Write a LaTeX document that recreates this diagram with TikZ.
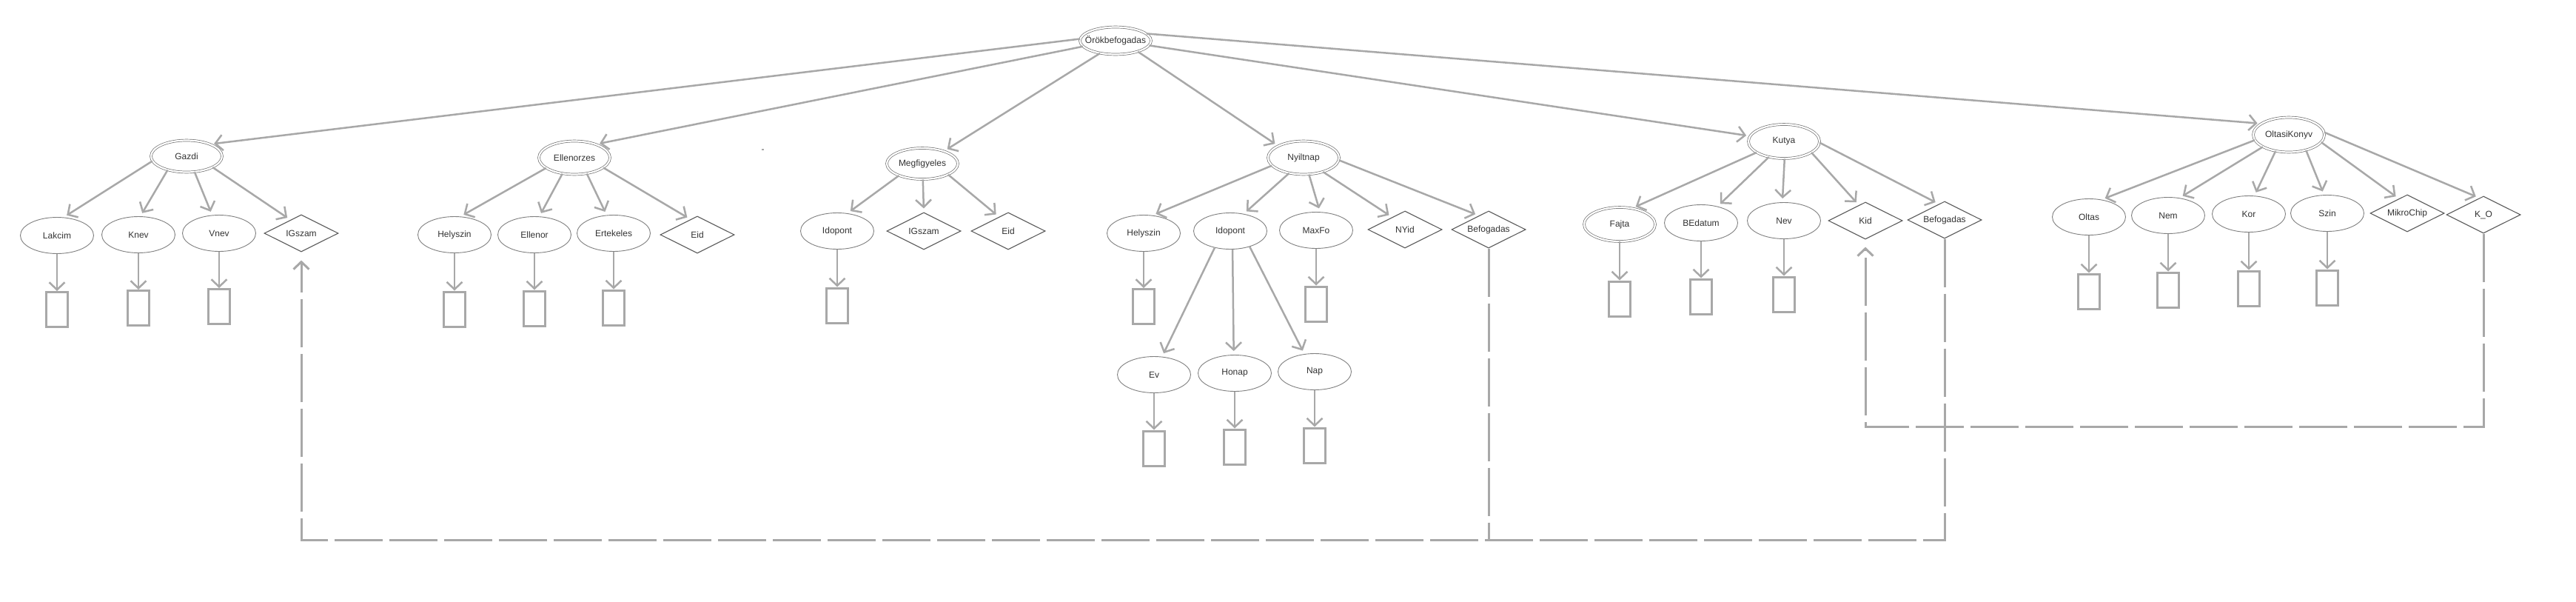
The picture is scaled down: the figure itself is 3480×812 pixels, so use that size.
\documentclass[tikz,border=0pt]{standalone}
\usepackage{fontspec}
\setmainfont{Liberation Sans}
\usetikzlibrary{shapes.geometric,arrows.meta}
\definecolor{lin}{HTML}{A8A8A8}
\definecolor{bord}{HTML}{7F7F7F}
\definecolor{ebord}{HTML}{707070}
\definecolor{dbord}{HTML}{5A5A5A}
\definecolor{txt}{HTML}{333333}
\newcommand{\ctxt}[1]{\makebox[0pt]{#1}}
\begin{document}
\begin{tikzpicture}[x=1pt,y=-1pt,
  every node/.style={font=\fontsize{12}{14}\selectfont, text=txt, inner sep=0pt},
  attr/.style={ellipse, draw=bord, line width=0.9pt, minimum width=99pt, minimum height=49pt},
  ent/.style={ellipse, draw=ebord, line width=0.7pt, double, double distance=2.2pt, minimum width=96pt, minimum height=#1},
  ent/.default=43pt,
  relbox/.style={diamond, draw=dbord, line width=1.1pt, minimum width=100pt, minimum height=50pt},
  valbox/.style={rectangle, draw=lin, line width=3pt, minimum width=29pt, minimum height=47pt},
  conn/.style={draw=lin, line width=2.5pt, -{Straight Barb[length=10pt,width=21pt]}, shorten >=5pt},
  vconn/.style={draw=lin, line width=2.5pt, -{Straight Barb[length=10pt,width=21pt]}},
  link/.style={draw=lin, line width=3pt, dash pattern=on 65pt off 9pt},
]
\useasboundingbox (0,0) rectangle (3480,812);
\fill[white] (0,0) rectangle (3480,812);

% entities
\node[ent=37pt] (R) at (1507,55) {\ctxt{Örökbefogadas}};
\node[ent=43pt] (G) at (252,211) {\ctxt{Gazdi}};
\node[ent=45pt] (E) at (776,213) {\ctxt{Ellenorzes}};
\node[ent=42pt] (M) at (1246,221) {\ctxt{Megfigyeles}};
\node[ent=45pt] (N) at (1761,213) {\ctxt{Nyiltnap}};
\node[ent=46pt] (K) at (2410,191) {\ctxt{Kutya}};
\node[ent=47pt] (O) at (3092,182) {\ctxt{OltasiKonyv}};

% Gazdi
\node[attr] (GL) at (77,318) {\ctxt{Lakcim}};
\node[attr] (GK) at (187,317) {\ctxt{Knev}};
\node[attr] (GV) at (296,315) {\ctxt{Vnev}};
\node[relbox] (GI) at (407,315) {\ctxt{IGszam}};
\node[valbox] (GLr) at (77,418) {};
\node[valbox] (GKr) at (187,416) {};
\node[valbox] (GVr) at (296,414) {};

% Ellenorzes
\node[attr] (EH) at (614,317) {\ctxt{Helyszin}};
\node[attr] (EE) at (722,317) {\ctxt{Ellenor}};
\node[attr] (ET) at (829,315) {\ctxt{Ertekeles}};
\node[relbox] (EI) at (942,317) {\ctxt{Eid}};
\node[valbox] (EHr) at (614,417.5) {};
\node[valbox] (EEr) at (722,416.5) {};
\node[valbox] (ETr) at (829,415.5) {};

% Megfigyeles
\node[attr] (MI) at (1131,312) {\ctxt{Idopont}};
\node[relbox] (MG) at (1248,312) {\ctxt{IGszam}};
\node[relbox] (ME) at (1362,312) {\ctxt{Eid}};
\node[valbox] (MIr) at (1131,412.5) {};

% Nyiltnap
\node[attr] (NH) at (1545,315) {\ctxt{Helyszin}};
\node[attr] (NI) at (1662,312) {\ctxt{Idopont}};
\node[attr] (NM) at (1778,311) {\ctxt{MaxFo}};
\node[relbox] (NY) at (1898,310) {\ctxt{NYid}};
\node[relbox] (NB) at (2011,310) {\ctxt{Befogadas}};
\node[valbox] (NHr) at (1545,414) {};
\node[valbox] (NMr) at (1778,410.5) {};
\node[attr] (NE) at (1559,506) {\ctxt{Ev}};
\node[attr] (NO) at (1668,504) {\ctxt{Honap}};
\node[attr] (NP) at (1776,502) {\ctxt{Nap}};
\node[valbox] (NEr) at (1559,605.5) {};
\node[valbox] (NOr) at (1668,603.5) {};
\node[valbox] (NPr) at (1776,601.5) {};

% Kutya
\node[ent=46pt] (KF) at (2188,303) {\ctxt{Fajta}};
\node[attr] (KB) at (2298,301) {\ctxt{BEdatum}};
\node[attr] (KN) at (2410,298) {\ctxt{Nev}};
\node[relbox] (KK) at (2520,298) {\ctxt{Kid}};
\node[relbox] (KG) at (2627,297) {\ctxt{Befogadas}};
\node[valbox] (KFr) at (2188,403.5) {};
\node[valbox] (KBr) at (2298,400.5) {};
\node[valbox] (KNr) at (2410,397.5) {};

% OltasiKonyv
\node[attr] (OO) at (2822,293) {\ctxt{Oltas}};
\node[attr] (ON) at (2929,291) {\ctxt{Nem}};
\node[attr] (OK) at (3038,289) {\ctxt{Kor}};
\node[attr] (OS) at (3144,288) {\ctxt{Szin}};
\node[relbox] (OM) at (3252,288) {\ctxt{MikroChip}};
\node[relbox] (OX) at (3355,290) {\ctxt{K\_O}};
\node[valbox] (OOr) at (2822,393.5) {};
\node[valbox] (ONr) at (2929,391.5) {};
\node[valbox] (OKr) at (3038,389.5) {};
\node[valbox] (OSr) at (3144,388.5) {};

% root connectors
\draw[conn] (R.177) -- (G.27);
\draw[conn] (R.190) -- (E.32);
\draw[conn] (R.219) -- (M.30);
\draw[conn] (R.334) -- (N.155);
\draw[conn] (R.352) -- (K.171);
\draw[conn] (R.13) -- (O.158);

% Gazdi connectors
\draw[conn] (G.188) -- (GL.70);
\draw[conn] (G.216) -- (GK.84);
\draw[conn] (G.297) -- (GV.111);
\draw[conn] (G.337) -- (GI.129);
\draw[vconn] (GL.south) -- (GLr.north);
\draw[vconn] (GK.south) -- (GKr.north);
\draw[vconn] (GV.south) -- (GVr.north);

% Ellenorzes connectors
\draw[conn] (E.200) -- (EH.72);
\draw[conn] (E.233) -- (EE.75);
\draw[conn] (E.308) -- (ET.111);
\draw[conn] (E.341) -- (EI.114);
\draw[vconn] (EH.south) -- (EHr.north);
\draw[vconn] (EE.south) -- (EEr.north);
\draw[vconn] (ET.south) -- (ETr.north);

% Megfigyeles connectors
\draw[conn] (M.207) -- (MI.60);
\draw[conn] (M.272) -- (MG.90);
\draw[conn] (M.337) -- (ME.123);
\draw[vconn] (MI.south) -- (MIr.north);

% Nyiltnap connectors
\draw[conn] (N.194) -- (NH.64);
\draw[conn] (N.227) -- (NI.52);
\draw[conn] (N.288) -- (NM.78);
\draw[conn] (N.324) -- (NY.136);
\draw[conn] (N.356) -- (NB.125);
\draw[vconn] (NH.south) -- (NHr.north);
\draw[vconn] (NM.south) -- (NMr.north);
\draw[conn] (NI.227) -- (NE.66);
\draw[conn] (NI.277) -- (NO.93);
\draw[conn] (NI.321) -- (NP.120);
\draw[vconn] (NE.south) -- (NEr.north);
\draw[vconn] (NO.south) -- (NOr.north);
\draw[vconn] (NP.south) -- (NPr.north);

% Kutya connectors
\draw[conn] (K.202) -- (KF.52);
\draw[conn] (K.226) -- (KB.45);
\draw[conn] (K.272) -- (KN.95);
\draw[conn] (K.338) -- (KK.113);
\draw[conn] (K.358) -- (KG.110);
\draw[vconn] (KF.south) -- (KFr.north);
\draw[vconn] (KB.south) -- (KBr.north);
\draw[vconn] (KN.south) -- (KNr.north);

% OltasiKonyv connectors
\draw[conn] (O.189) -- (OO.54);
\draw[conn] (O.205) -- (ON.57);
\draw[conn] (O.231) -- (OK.73);
\draw[conn] (O.318) -- (OS.100);
\draw[conn] (O.347) -- (OM.120);
\draw[conn] (O.4) -- (OX.104);
\draw[vconn] (OO.south) -- (OOr.north);
\draw[vconn] (ON.south) -- (ONr.north);
\draw[vconn] (OK.south) -- (OKr.north);
\draw[vconn] (OS.south) -- (OSr.north);

% dashed links
\coordinate (c1) at (407,729);
\coordinate (c3) at (2520,576);
\draw[link, -{Straight Barb[length=10pt,width=21pt]}, shorten >=11pt] (KG.south) |- (c1) -- (GI.south);
\draw[link] (NB.south) -- (NB.south |- c1);
\draw[link, -{Straight Barb[length=10pt,width=21pt]}, shorten >=10pt] (OX.south) |- (c3) -- (KK.south);

% stray dot
\fill[lin] (1029,201) rectangle (1032,203);
\end{tikzpicture}
\end{document}
